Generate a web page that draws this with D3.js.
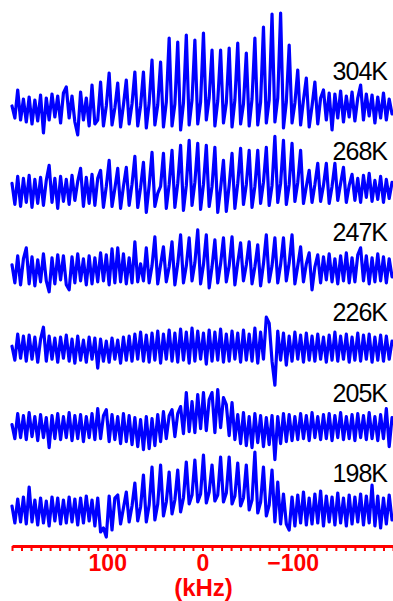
<!DOCTYPE html>
<html>
<head>
<meta charset="utf-8">
<script src="https://cdn.jsdelivr.net/npm/d3@7"></script>
<style>
  body { margin: 0; background: #fff; }
</style>
</head>
<body>
<div id="chart"></div>
<script>
// spectra, one per temperature, sampled every 3 kHz from +200 kHz downwards (a.u.)
const temps = ['304K', '268K', '247K', '226K', '205K', '198K'];
const freqStart = 200;
const freqStep = 3;

const s304 = [
  2, -10, 18, -12, 9, -14, 11, -16, 8, -13,
  13, -25, 10, -12, 14, -9, 12, -15, 15, 21,
  -10, 12, -14, -27, 16, -12, 10, -18, 23, -16,
  -12, 26, -18, 2,
  35, -17, 0, 25, -19, 3, 28, -16, 4, 36, -18, 2, 36, -20, 5,
  48, -17, 3, 46, -19, 6, 70, -18, 4, 66, -22, 5, 73, -17, 8,
  68, -16, 6, 75, -12, 10, 58, -18, 7, 58, -15, 5, 60, -19, 8,
  65, -16, 4, 55, -18, 9, 70, -17, 6, 81, -15, 8, 94, -14, 10,
  95, -20, 6, 63, -15, 5, 38, -17, 8, 30, -19, 2, 26, -16, 10,
  18, -12, 15, -22, 14, -10, 17, -14, 12, -9,
  16, -13, 10, 23, -12, 14, -8, 13, -15, 11,
  -10, 15, -12, 9, -6
];

const s268 = [
  5, -16, 12, -18, 10, -14, 13, -19, 9, -15,
  11, -17, 8, 23, -14, 10, -20, 12, -13, 9,
  -16, 13, -12, 7, 20, -18, 11, -15, 14, -17,
  10, 18, -19, 2,
  28, -18, 0, 20, -20, 2, 21, -17, 4, 32, -19, 1, 26, -24, 3,
  36, -18, -5, 2,
  35, -20, 4, 38, -19, 5, 43, -22, 3, 48, -17, 6, 45, -21, 4,
  43, -18, 2, 41, -24, 0, 28, -23, 3, 35, -20, 5, 40, -16, 4,
  38, -19, 2, 38, -15, 6, 41, -17, 3, 52, -14, 5, 48, -16, 4,
  45, -13, 6, 38, -15, 2, 18, -14, 4, 25, -13, 3, 25, -15, 2,
  25, -12, 5, 21, -14, 3,
  14, -12, 10, -14, 13, -9, 15, -13, 8, -11, 12, -14, 9, -10, 6
];

const s247 = [
  4, -14, 13, -16, 10, 21, -15, 12, -17, 9,
  -13, 15, -12, -23, 11, -15, 14, -11, 13, -16,
  -21, 12, -14, 15, -12, 10, -16, 13, -15, 11,
  -13, 16, -12, 14, -16, 20, -14, 21, -13, 15,
  -15, 11, -14,
  27, -13, 5, -12, 21, -14, 3,
  32, -15, 4, 22, -13, 2, 27, -16, 5, 34, -14, 3, 31, -12, 6,
  39, -15, 4, 34, -19, 2, 29, -14, 5, 31, -13, 3, 32, -16, 6,
  26, -12, 4, 27, -15, 2, 24, -17, 5, 34, -13, 3, 31, -14, 4,
  31, -12, 6, 34, -15, 3, 22, -13, 5, 16, -21, 2,
  14,
  -14, 12, -11, 15, -13, 10, -15, 13, -12, 16,
  -14, 11, -13, 14, 21, -12, 13, -15, 11, -13,
  15, -12, 12, -14, 10, -8
];

const s226 = [
  3, -11, 15, -9, 13, -12, 14, -10, 12, -13,
  10, 22, -12, 13, -10, 11, -13, 12, -9, 14,
  -12, 10, -14, 13, -11, 9, -13, 12, -10, 11,
  -19, 10, -12, 8, -13, 11, -10, 9, -14, 12,
  -11, 13, -12, 15, -10, 17, -12, 14, -13, 16,
  -11, 18, -14, 15, -10, 19, -12, 16, -13, 20,
  -11, 17, -14, 21, -12, 18, -10, 16, -15, 19,
  -12, 17, -11, 20, -13, 15, -12, 18, -10, 16,
  -13, 19, -11, 15, -12, 21, -14, 17, -10, 32,
  26, -12, -36, 18, -11, 16, -16, 13, -12, 17,
  -10, 14, -13, 16, -11, 13, -12, 15, -10, 12,
  -13, 14, -11, 17, -12, 13, -10, 15, -13, 12,
  -11, 16, -12, 14, -10, 15, -13, 12, -11, 14,
  -12, 13, -10, 8
];

const s205 = [
  5, -9, 16, -8, 14, -10, 17, -7, 13, -11,
  15, -8, 12, -18, 14, -9, 16, -10, 13, -8,
  17, -11, 14, -9, 15, -12, 13, -8, 16, -10,
  21, -9, 14, 20, -12, 15, -10, 13, -14, 16,
  -12, 14, -15, 12, -17, 10, -20, 13, -19, 11,
  -16, 15, -12, 18, -9, 14, 20, -7, 16, 23,
  -4, 37, -2, 28, -3, 35, 1, 37, -1, 30,
  37, -3, 40, 2, 32, 25, -6, 27, -10, 15,
  -14, 17, -16, 13, -18, 16, -13, 14, -17, 12,
  -15, 14, -30, 13, -14, 16, -12, 15, -11, 13,
  -10, 16, -9, 14, -11, 17, -8, 13, -10, 15,
  -9, 16, -11, 14, -8, 17, -10, 13, -9, 15,
  -11, 16, -8, 14, -10, 17, -9, 13, -11, 15,
  -9, 21, -17, 12
];

const s198 = [
  4, -13, 11, -12, 13, -14, 23, -12, 10, -15,
  12, -13, 9, -16, 13, -11, 12, -14, 10, -13,
  13, -12, 11, -15, 12, -13, 14, -11, 10, -16,
  12, -22, -18, -27, 14, -20, 12,
  15, -14, 2, 18, -12, 4, 27, -11, 3, 35, -12, 5, 43, -10, 6,
  45, -6, 8, 38, -4, 10, 40, -2, 12, 48, 6, 15, 50, 8, 16,
  55, 7, 18, 45, 9, 15, 53, 8, 17, 53, 6, 14, 47, 4, 12,
  45, 0, 10, 58, -3, 8, 43, -6, 5,
  40, -12, 28, -14,
  16, -14, -20, 13, -16, 15, -13, 18, -15, 12,
  -14, 16, -13, 19, -16, 14, -12, 13, -15, 17,
  -13, 12, -16, 15, -14, 13, -12, 16, -15, 14,
  -13, 25, -16, 14, -18, 12, -14, 15, -10
];

const series = [s304, s268, s247, s226, s205, s198];
const minorTicks = d3.range(-200, 201, 10);
const tickLabels = [100, 0, -100];

const width = 393, height = 601;

const svg = d3.select('#chart')
  .append('svg')
  .attr('width', width)
  .attr('height', height);

const x = d3.scaleLinear().domain([200, -200]).range([12, 393]);
const yPos = d3.scalePoint().domain(temps).range([108, 510]);
const amp = d3.scaleLinear().domain([0, 100]).range([0, -100]);

// traces
temps.forEach((t, k) => {
  const line = d3.line()
    .x((d, i) => x(freqStart - i * freqStep))
    .y(d => yPos(t) + amp(d));

  svg.append('path')
    .datum(series[k])
    .attr('d', line)
    .attr('fill', 'none')
    .attr('stroke', '#0000ff')
    .attr('stroke-width', 3.2)
    .attr('stroke-linejoin', 'round')
    .attr('stroke-linecap', 'round');

  svg.append('text')
    .attr('x', 387)
    .attr('y', yPos(t) - 28)
    .attr('text-anchor', 'end')
    .attr('font-family', '"Liberation Sans Narrow", "Liberation Sans", sans-serif')
    .attr('font-size', 25)
    .attr('letter-spacing', -1)
    .attr('fill', '#000')
    .text(t);
});

// x axis
const axisY = 546;

const minor = svg.append('g')
  .attr('transform', `translate(0,${axisY})`)
  .call(d3.axisBottom(x).tickValues(minorTicks).tickSize(5).tickSizeOuter(0).tickFormat(''));
minor.select('.domain').attr('stroke', '#ff0000').attr('stroke-width', 3);
minor.selectAll('.tick line').attr('stroke', '#ff0000').attr('stroke-width', 2);

const labels = svg.append('g')
  .attr('transform', `translate(0,${axisY})`)
  .call(d3.axisBottom(x).tickValues(tickLabels).tickSize(0).tickPadding(9));
labels.select('.domain').remove();
labels.selectAll('text')
  .attr('fill', '#ff0000')
  .attr('font-family', '"Liberation Sans Narrow", "Liberation Sans", sans-serif')
  .attr('font-weight', 'bold')
  .attr('font-size', 23)
  .attr('dx', d => d < 0 ? -5 : 0);

svg.append('text')
  .attr('x', x(0) + 1)
  .attr('y', 596)
  .attr('text-anchor', 'middle')
  .attr('fill', '#ff0000')
  .attr('font-family', '"Liberation Sans Narrow", "Liberation Sans", sans-serif')
  .attr('font-weight', 'bold')
  .attr('font-size', 24)
  .text('(kHz)');
</script>
</body>
</html>
